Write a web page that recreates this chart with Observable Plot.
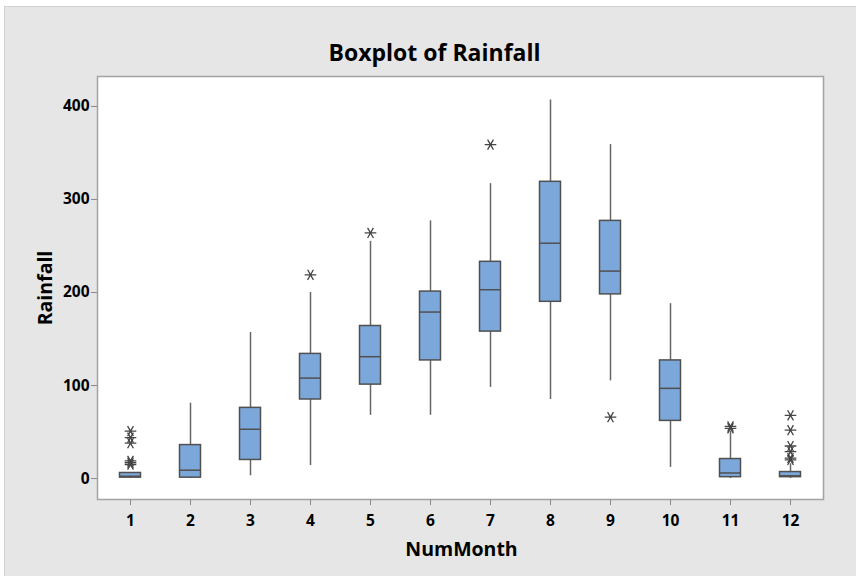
<!DOCTYPE html>
<html><head><meta charset="utf-8">
<script src="https://cdn.jsdelivr.net/npm/d3@7"></script>
<script src="https://cdn.jsdelivr.net/npm/@observablehq/plot@0.6"></script>
<style>
html,body{margin:0;padding:0;background:#fff;}
#wrap{position:relative;width:856px;height:576px;overflow:hidden;}
#panel{position:absolute;left:4px;top:6px;right:0;bottom:0;background:#e6e6e6;border-left:1px solid #d2d2d2;border-top:1px solid #d2d2d2;}
#chart{position:absolute;left:0;top:0;}
</style></head>
<body><div id="wrap"><div id="panel"></div><div id="chart"></div></div>
<script>
const months = [1, 2, 3, 4, 5, 6, 7, 8, 9, 10, 11, 12];
const whiskerLow  = [0, 0, 3, 14, 68, 68, 98, 85, 105, 12, 0, 0];
const q1          = [1, 1, 20, 85, 101, 127, 158, 190, 198, 62, 1.5, 1.5];
const median      = [2.5, 9, 53, 108, 131, 179, 203, 253, 223, 97, 6, 3];
const q3          = [6, 36, 76, 134, 164, 201, 233, 319, 277, 127, 21, 7];
const whiskerHigh = [6, 81, 157, 200, 255, 277, 317, 407, 359, 188, 51, 16];
const outlierMonth = [1, 1, 1, 1, 1, 1, 4, 5, 7, 9, 11, 11, 12, 12, 12, 12, 12, 12];
const outlierValue = [51, 44, 38, 19, 17, 15, 219, 264, 359, 66, 54, 56, 68, 52, 35, 29, 22, 20];
const yTicks = [0, 100, 200, 300, 400];

const rows = months.map((m, i) => ({month: m, lo: whiskerLow[i], q1: q1[i], median: median[i], q3: q3[i], hi: whiskerHigh[i]}));
const outs = outlierMonth.map((m, i) => ({month: m, value: outlierValue[i]}));

const font = "'Open Sans', 'Noto Sans', sans-serif";
const inset = 19.5;
const plot = Plot.plot({
  width: 856, height: 576,
  marginLeft: 97, marginRight: 33, marginTop: 76, marginBottom: 77,
  style: {background: "transparent", fontFamily: font, color: "#000", overflow: "visible"},
  x: {type: "band", domain: months, padding: 0, label: null},
  y: {domain: [-22.5, 432.2], label: null},
  marks: [
    Plot.frame({fill: "white", stroke: "#a3a3a3", strokeWidth: 1.5}),
    Plot.axisY({ticks: yTicks, tickSize: 6, tickPadding: 2, stroke: "#8a8a8a", fill: "#000", fontSize: 15.5, fontWeight: "bold", label: null}),
    Plot.axisX({tickSize: 6, tickPadding: 9, stroke: "#8a8a8a", fill: "#000", fontSize: 15.5, fontWeight: "bold", label: null}),
    Plot.ruleX(rows, {x: "month", y1: "lo", y2: "q1", stroke: "#666", strokeWidth: 1.5}),
    Plot.ruleX(rows, {x: "month", y1: "q3", y2: "hi", stroke: "#666", strokeWidth: 1.5}),
    Plot.barY(rows, {x: "month", y1: "q1", y2: "q3", fill: "#7ba7da", stroke: "#505050", strokeWidth: 1.5, insetLeft: inset, insetRight: inset}),
    Plot.tickY(rows, {x: "month", y: "median", stroke: "#505050", strokeWidth: 1.5, insetLeft: inset, insetRight: inset}),
    Plot.dot(outs, {x: "month", y: "value", symbol: "asterisk", r: 5.5, stroke: "#444", strokeWidth: 1.3, rotate: 90}),
    Plot.text(["Boxplot of Rainfall"], {text: d => d, frameAnchor: "top", textAnchor: "middle", lineAnchor: "middle", dx: -26, dy: -23, fontSize: 23, fontWeight: "bold", fill: "#000"}),
    Plot.text(["NumMonth"], {text: d => d, frameAnchor: "bottom", textAnchor: "middle", lineAnchor: "middle", dx: 1, dy: 50, fontSize: 19.5, fontWeight: "bold", fill: "#000"}),
    Plot.text(["Rainfall"], {text: d => d, frameAnchor: "left", textAnchor: "middle", lineAnchor: "middle", rotate: -90, dx: -52, dy: 0, fontSize: 19.5, fontWeight: "bold", fill: "#000"})
  ]
});
document.getElementById("chart").appendChild(plot);
</script>
</body></html>
